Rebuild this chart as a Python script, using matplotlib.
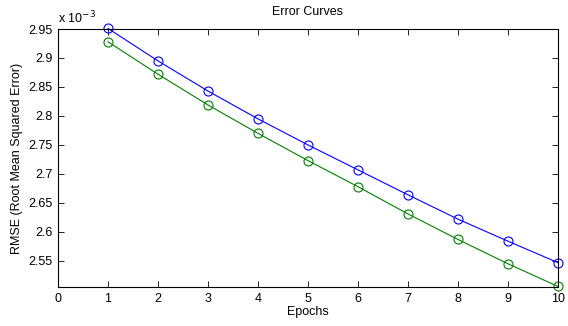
import matplotlib
matplotlib.use("Agg")
import matplotlib.pyplot as plt

plt.rcParams['font.family'] = ['Liberation Sans', 'DejaVu Sans']

epochs = [1, 2, 3, 4, 5, 6, 7, 8, 9, 10]
# RMSE values in units of 1e-3
rmse_blue = [2.951, 2.895, 2.843, 2.795, 2.750, 2.707, 2.664, 2.622, 2.584, 2.547]
rmse_green = [2.928, 2.872, 2.819, 2.770, 2.723, 2.678, 2.631, 2.587, 2.545, 2.506]
xticks = list(range(0, 11))
yticks = [2.55, 2.6, 2.65, 2.7, 2.75, 2.8, 2.85, 2.9, 2.95]

fig = plt.figure(figsize=(5.68, 3.26), dpi=100)
ax = fig.add_axes([58/568, 39/326, 500/568, 258/326])

ax.plot(epochs, rmse_blue, color='#0000ff', marker='o', markersize=6.5,
        markerfacecolor='none', linewidth=0.8, markeredgewidth=0.8, clip_on=False)
ax.plot(epochs, rmse_green, color='#008000', marker='o', markersize=6.5,
        markerfacecolor='none', linewidth=0.8, markeredgewidth=0.8, clip_on=False)

ax.set_xlim(0, 10)
ax.set_ylim(2.505, 2.95)
ax.set_xticks(xticks)
ax.set_yticks(yticks)
ax.set_yticklabels([f"{v:g}" for v in yticks])
ax.tick_params(direction='in', length=4, width=0.6, labelsize=9, top=True, right=True, pad=4)
for s in ax.spines.values():
    s.set_linewidth(0.8)

ax.set_title('Error Curves', fontsize=9, pad=10)
ax.set_xlabel('Epochs', fontsize=9, labelpad=1)
ax.set_ylabel('RMSE (Root Mean Squared Error)', fontsize=9, labelpad=4)
ax.text(0.0, 1.012, r'x 10$^{-3}$', transform=ax.transAxes, fontsize=9,
        ha='left', va='bottom')

fig.savefig('out.png', dpi=100)
